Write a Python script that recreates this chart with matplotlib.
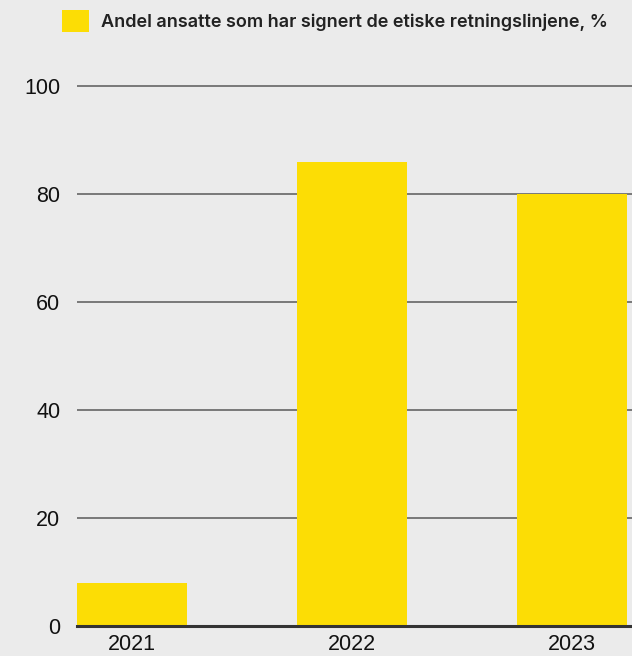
import matplotlib
matplotlib.use("Agg")
import matplotlib.pyplot as plt

years = ["2021", "2022", "2023"]
share_signed = [8, 86, 80]
series_label = "Andel ansatte som har signert de etiske retningslinjene, %"
y_ticks = [0, 20, 40, 60, 80, 100]

BG = "#ebebeb"
BAR = "#fcdd05"

W, H = 632, 656
fig = plt.figure(figsize=(W / 100, H / 100), dpi=100, facecolor=BG)

# axes box in pixels: left 77, right 632, zero line at y=626, 100 at y=86
ymax = 102
px_per_unit = (626 - 86) / 100
ax_h = ymax * px_per_unit
ax = fig.add_axes([77 / W, (H - 626) / H, (W - 77) / W, ax_h / H])
ax.set_facecolor(BG)

x = list(range(len(years)))
ax.bar(x, share_signed, width=0.5, color=BAR, label=series_label, zorder=3)

ax.set_xlim(-0.25, 2 + 60 / 220)
ax.set_ylim(0, ymax)
ax.set_yticks(y_ticks)
ax.set_xticks(x)
ax.set_xticklabels(years)

for t in y_ticks[1:]:
    ax.axhline(t, color="#5a5a5a", lw=1.1, zorder=1)
ax.axhline(0, color="#333333", lw=2.2, zorder=4, clip_on=False)

for s in ax.spines.values():
    s.set_visible(False)
ax.tick_params(length=0, labelsize=15.5, colors="#111111")
ax.tick_params(axis="y", pad=12)
ax.tick_params(axis="x", pad=6)
for lab in ax.get_xticklabels() + ax.get_yticklabels():
    lab.set_fontfamily("Liberation Sans")

fig.legend(loc="center left", bbox_to_anchor=(46 / W, 1 - 21 / H), frameon=False,
           handlelength=1.47, handleheight=1.47, handletextpad=0.7,
           prop={"family": "Inter", "weight": 600, "size": 13}, labelcolor="#222222")

fig.savefig("out.png", dpi=100, facecolor=BG)
